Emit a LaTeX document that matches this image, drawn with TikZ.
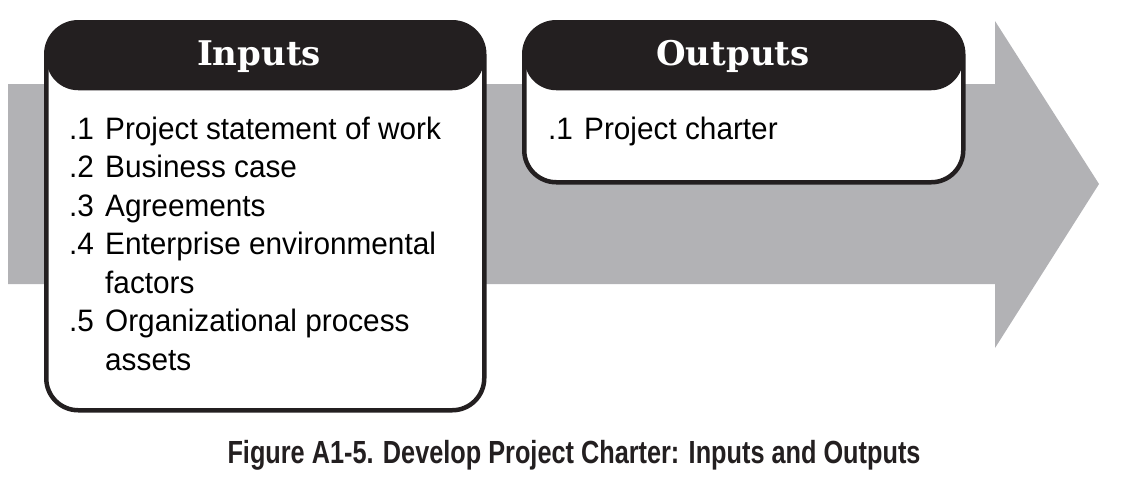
\documentclass[tikz,border=0pt]{standalone}
\usepackage{fontspec}
\setmainfont{Liberation Sans}[FakeStretch=0.96]
\newfontfamily\titlefont{DejaVu Serif}
\newfontfamily\capfont{Liberation Sans}[FakeStretch=0.79]
\definecolor{bandgray}{RGB}{178,178,181}
\definecolor{hdrblack}{RGB}{35,31,32}
\tikzset{
  box/.style={draw=hdrblack, line width=4.5pt, fill=white, rounded corners=32pt,
    inner sep=0pt, anchor=north west,
    path picture={\fill[hdrblack] (path picture bounding box.north west) rectangle ([yshift=-68pt]path picture bounding box.north east);}},
  boxtitle/.style={text=white, font=\titlefont\bfseries\fontsize{34}{38}\selectfont, anchor=base, inner sep=0pt},
  itemlist/.style={anchor=base west, inner sep=0pt, align=left, font=\fontsize{31}{38.5}\selectfont},
  caption/.style={anchor=base, inner sep=0pt, font=\capfont\bfseries\fontsize{32}{36}\selectfont, text=hdrblack}
}
\begin{document}
\begin{tikzpicture}[x=1pt, y=-1pt]
\useasboundingbox (0,0) rectangle (1123,479);
% big arrow
\fill[bandgray] (8,84) -- (995,84) -- (995,21) -- (1099,184) -- (995,348) -- (995,284) -- (8,284) -- cycle;
% boxes
\node[box, minimum width=438pt, minimum height=388pt] (inbox) at (44,20) {};
\node[box, minimum width=439pt, minimum height=160pt] (outbox) at (522,20) {};
\node[boxtitle] (intitle) at (259,65) {Inputs};
\node[boxtitle] (outtitle) at (733,65) {Outputs};
\node[itemlist] (initems) at (69,139) {%
\begin{tabular}[t]{@{}p{36pt}@{}l@{}}
.1 & Project statement of work\\
.2 & Business case\\
.3 & Agreements\\
.4 & Enterprise environmental\\
   & factors\\
.5 & Organizational process\\
   & assets
\end{tabular}};
\node[itemlist] (outitems) at (548,139) {%
\begin{tabular}[t]{@{}p{36pt}@{}l@{}}
.1 & Project charter
\end{tabular}};
\node[caption] (cap) at (574,463) {Figure A1-5. Develop Project Charter: Inputs and Outputs};
\end{tikzpicture}
\end{document}
